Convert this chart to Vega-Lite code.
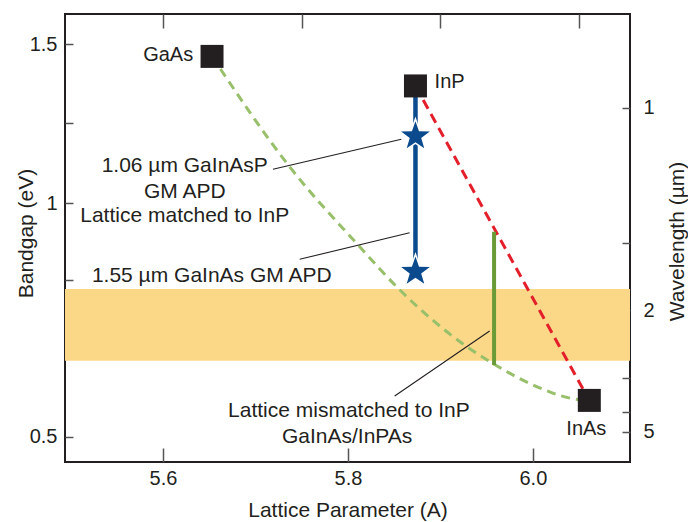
{
  "$schema": "https://vega.github.io/schema/vega-lite/v6.json",
  "width": 565,
  "height": 448,
  "autosize": "none",
  "padding": {"left": 65, "top": 14, "right": 58, "bottom": 60},
  "background": "white",
  "config": {
    "view": {"stroke": "#231f20", "strokeWidth": 2},
    "font": "Liberation Sans",
    "axis": {
      "domain": false, "grid": false,
      "labelFont": "Liberation Sans", "titleFont": "Liberation Sans",
      "labelColor": "#231f20", "titleColor": "#231f20",
      "labelFontSize": 20, "titleFontSize": 21, "titleFontWeight": "normal",
      "tickColor": "#555555", "tickWidth": 1.5
    }
  },
  "datasets": {
    "band": [{"low": 0.6359, "high": 0.7867}],
    "bowing": [
      {"lattice": 5.653, "bandgap": 1.456},
      {"lattice": 5.737, "bandgap": 1.101},
      {"lattice": 5.813, "bandgap": 0.886},
      {"lattice": 5.853, "bandgap": 0.791},
      {"lattice": 5.926, "bandgap": 0.667},
      {"lattice": 5.959, "bandgap": 0.628},
      {"lattice": 6.0, "bandgap": 0.59},
      {"lattice": 6.045, "bandgap": 0.5645},
      {"lattice": 6.061, "bandgap": 0.562}
    ],
    "inp_inas": [{"lattice": 5.873, "bandgap": 1.354, "lattice_end": 6.061, "bandgap_end": 0.562}],
    "matched": [{"lattice": 5.873, "bandgap": 1.354, "bandgap_end": 0.8267}],
    "mismatched": [{"lattice": 5.958, "bandgap": 0.9247, "bandgap_end": 0.6276}],
    "leaders": [
      {"lattice": 5.7189, "bandgap": 1.094, "lattice_end": 5.8577, "bandgap_end": 1.183},
      {"lattice": 5.7478, "bandgap": 0.8562, "lattice_end": 5.8667, "bandgap_end": 0.9221},
      {"lattice": 5.8505, "bandgap": 0.5699, "lattice_end": 5.9532, "bandgap_end": 0.6955}
    ],
    "devices": [
      {"device": "1.06 µm GaInAsP", "lattice": 5.873, "bandgap": 1.1924},
      {"device": "1.55 µm GaInAs", "lattice": 5.873, "bandgap": 0.8267}
    ],
    "compounds": [
      {"name": "GaAs", "lattice": 5.653, "bandgap": 1.456},
      {"name": "InP", "lattice": 5.873, "bandgap": 1.354},
      {"name": "InAs", "lattice": 6.061, "bandgap": 0.562}
    ],
    "notes": [
      {"text": "1.06 µm GaInAsP", "lattice": 5.6235, "bandgap": 1.0871},
      {"text": "GM APD", "lattice": 5.6235, "bandgap": 1.0128},
      {"text": "Lattice matched to InP", "lattice": 5.6235, "bandgap": 0.9489},
      {"text": "1.55 µm GaInAs GM APD", "lattice": 5.6527, "bandgap": 0.8034},
      {"text": "Lattice mismatched to InP", "lattice": 5.801, "bandgap": 0.5325},
      {"text": "GaInAs/InPAs", "lattice": 5.7991, "bandgap": 0.4904}
    ],
    "note_inas": [{"text": "InAs", "lattice": 6.0578, "bandgap": 0.5029}],
    "note_gaas": [{"text": "GaAs", "lattice": 5.6326, "bandgap": 1.4397}],
    "note_inp": [{"text": "InP", "lattice": 5.8937, "bandgap": 1.347}],
    "wavelength_axis": [
      {"lattice": 5.6, "wavelength": 1},
      {"lattice": 5.6, "wavelength": 5}
    ]
  },
  "layer": [
    {
      "layer": [
        {
          "data": {"name": "band"},
          "mark": {"type": "rect", "color": "#fbd888"},
          "encoding": {
            "y": {"field": "low", "type": "quantitative",
              "scale": {"type": "pow", "exponent": 0.275, "domain": [0.46, 1.612], "nice": false, "zero": false},
              "axis": {
                "orient": "left",
                "values": [0.5, 0.6411, 0.8073, 1, 1.2334, 1.5],
                "labelExpr": "datum.value == 1.5 ? '1.5' : datum.value == 1 ? '1' : datum.value == 0.5 ? '0.5' : ''",
                "tickSize": -8, "labelPadding": 16,
                "title": "Bandgap (eV)", "titleAngle": 270, "titleX": -33, "titleY": 219,
                "titleAlign": "center", "titleBaseline": "alphabetic"
              }
            },
            "y2": {"field": "high"}
          }
        },
        {
          "data": {"name": "bowing"},
          "mark": {"type": "line", "interpolate": "monotone", "strokeDash": [9, 6], "strokeWidth": 3, "color": "#98bf6a"},
          "encoding": {
            "x": {"field": "lattice", "type": "quantitative",
              "scale": {"domain": [5.494, 6.105], "nice": false, "zero": false},
              "axis": {
                "orient": "bottom", "values": [5.6, 5.8, 6.0], "format": ".1f",
                "tickSize": -14, "labelPadding": 36, "labelBaseline": "alphabetic",
                "title": "Lattice Parameter (A)", "titleY": 54, "titleBaseline": "alphabetic"
              }
            },
            "y": {"field": "bandgap", "type": "quantitative",
              "scale": {"type": "pow", "exponent": 0.275, "domain": [0.46, 1.612], "nice": false, "zero": false}}
          }
        },
        {
          "data": {"name": "inp_inas"},
          "mark": {"type": "rule", "color": "#e21f2b", "strokeWidth": 3, "strokeDash": [10, 6]},
          "encoding": {
            "x": {"field": "lattice", "type": "quantitative", "scale": {"domain": [5.494, 6.105], "nice": false, "zero": false}},
            "x2": {"field": "lattice_end"},
            "y": {"field": "bandgap", "type": "quantitative",
              "scale": {"type": "pow", "exponent": 0.275, "domain": [0.46, 1.612], "nice": false, "zero": false}},
            "y2": {"field": "bandgap_end"}
          }
        },
        {
          "data": {"name": "mismatched"},
          "mark": {"type": "rule", "color": "#6b9b37", "strokeWidth": 4},
          "encoding": {
            "x": {"field": "lattice", "type": "quantitative", "scale": {"domain": [5.494, 6.105], "nice": false, "zero": false}},
            "y": {"field": "bandgap", "type": "quantitative",
              "scale": {"type": "pow", "exponent": 0.275, "domain": [0.46, 1.612], "nice": false, "zero": false}},
            "y2": {"field": "bandgap_end"}
          }
        },
        {
          "data": {"name": "matched"},
          "mark": {"type": "rule", "color": "#0b4a8c", "strokeWidth": 4.5},
          "encoding": {
            "x": {"field": "lattice", "type": "quantitative", "scale": {"domain": [5.494, 6.105], "nice": false, "zero": false}},
            "y": {"field": "bandgap", "type": "quantitative",
              "scale": {"type": "pow", "exponent": 0.275, "domain": [0.46, 1.612], "nice": false, "zero": false}},
            "y2": {"field": "bandgap_end"}
          }
        },
        {
          "data": {"name": "leaders"},
          "mark": {"type": "rule", "color": "#231f20", "strokeWidth": 1.1},
          "encoding": {
            "x": {"field": "lattice", "type": "quantitative", "scale": {"domain": [5.494, 6.105], "nice": false, "zero": false}},
            "x2": {"field": "lattice_end"},
            "y": {"field": "bandgap", "type": "quantitative",
              "scale": {"type": "pow", "exponent": 0.275, "domain": [0.46, 1.612], "nice": false, "zero": false}},
            "y2": {"field": "bandgap_end"}
          }
        },
        {
          "data": {"name": "devices"},
          "mark": {"type": "point", "shape": "M0,-1L0.235,-0.324L0.951,-0.309L0.38,0.124L0.588,0.809L0,0.4L-0.588,0.809L-0.38,0.124L-0.951,-0.309L-0.235,-0.324Z", "filled": true, "fill": "#0b4a8c", "stroke": "white", "strokeWidth": 1.5, "size": 1200, "opacity": 1},
          "encoding": {
            "x": {"field": "lattice", "type": "quantitative", "scale": {"domain": [5.494, 6.105], "nice": false, "zero": false}},
            "y": {"field": "bandgap", "type": "quantitative",
              "scale": {"type": "pow", "exponent": 0.275, "domain": [0.46, 1.612], "nice": false, "zero": false}}
          }
        },
        {
          "data": {"name": "compounds"},
          "mark": {"type": "square", "size": 529, "color": "#231f20", "opacity": 1},
          "encoding": {
            "x": {"field": "lattice", "type": "quantitative", "scale": {"domain": [5.494, 6.105], "nice": false, "zero": false}},
            "y": {"field": "bandgap", "type": "quantitative",
              "scale": {"type": "pow", "exponent": 0.275, "domain": [0.46, 1.612], "nice": false, "zero": false}}
          }
        },
        {
          "data": {"name": "notes"},
          "mark": {"type": "text", "align": "center", "baseline": "alphabetic", "fontSize": 21, "font": "Liberation Sans", "color": "#231f20"},
          "encoding": {
            "x": {"field": "lattice", "type": "quantitative", "scale": {"domain": [5.494, 6.105], "nice": false, "zero": false}},
            "y": {"field": "bandgap", "type": "quantitative",
              "scale": {"type": "pow", "exponent": 0.275, "domain": [0.46, 1.612], "nice": false, "zero": false}},
            "text": {"field": "text"}
          }
        },
        {
          "data": {"name": "note_inas"},
          "mark": {"type": "text", "align": "center", "baseline": "alphabetic", "fontSize": 20, "font": "Liberation Sans", "color": "#231f20"},
          "encoding": {
            "x": {"field": "lattice", "type": "quantitative", "scale": {"domain": [5.494, 6.105], "nice": false, "zero": false}},
            "y": {"field": "bandgap", "type": "quantitative",
              "scale": {"type": "pow", "exponent": 0.275, "domain": [0.46, 1.612], "nice": false, "zero": false}},
            "text": {"field": "text"}
          }
        },
        {
          "data": {"name": "note_gaas"},
          "mark": {"type": "text", "align": "right", "baseline": "alphabetic", "fontSize": 20, "font": "Liberation Sans", "color": "#231f20"},
          "encoding": {
            "x": {"field": "lattice", "type": "quantitative", "scale": {"domain": [5.494, 6.105], "nice": false, "zero": false}},
            "y": {"field": "bandgap", "type": "quantitative",
              "scale": {"type": "pow", "exponent": 0.275, "domain": [0.46, 1.612], "nice": false, "zero": false}},
            "text": {"field": "text"}
          }
        },
        {
          "data": {"name": "note_inp"},
          "mark": {"type": "text", "align": "left", "baseline": "alphabetic", "fontSize": 20, "font": "Liberation Sans", "color": "#231f20"},
          "encoding": {
            "x": {"field": "lattice", "type": "quantitative", "scale": {"domain": [5.494, 6.105], "nice": false, "zero": false}},
            "y": {"field": "bandgap", "type": "quantitative",
              "scale": {"type": "pow", "exponent": 0.275, "domain": [0.46, 1.612], "nice": false, "zero": false}},
            "text": {"field": "text"}
          }
        }
      ]
    },
    {
      "data": {"name": "wavelength_axis"},
      "mark": {"type": "point", "opacity": 0},
      "encoding": {
        "x": {"field": "lattice", "type": "quantitative",
          "scale": {"domain": [5.494, 6.105], "nice": false, "zero": false},
          "axis": {"orient": "top", "values": [5.6, 5.75, 5.9, 6.05], "labels": false, "title": null, "tickSize": -14}
        },
        "y": {"field": "wavelength", "type": "quantitative",
          "scale": {"type": "pow", "exponent": -1, "domain": [0.8122, 7.962], "reverse": true, "nice": false, "zero": false},
          "axis": {
            "orient": "right", "values": [1, 1.5, 2, 3, 4, 5],
            "labelExpr": "datum.value == 1 ? '1' : datum.value == 2 ? '2' : datum.value == 5 ? '5' : ''",
            "tickSize": -8, "labelPadding": 21, "labelAlign": "left",
            "title": "Wavelength (µm)", "titleAngle": 270, "titleX": 53, "titleY": 227,
            "titleAlign": "center", "titleBaseline": "alphabetic"
          }
        }
      }
    }
  ],
  "resolve": {"scale": {"y": "independent"}, "axis": {"x": "independent"}}
}
